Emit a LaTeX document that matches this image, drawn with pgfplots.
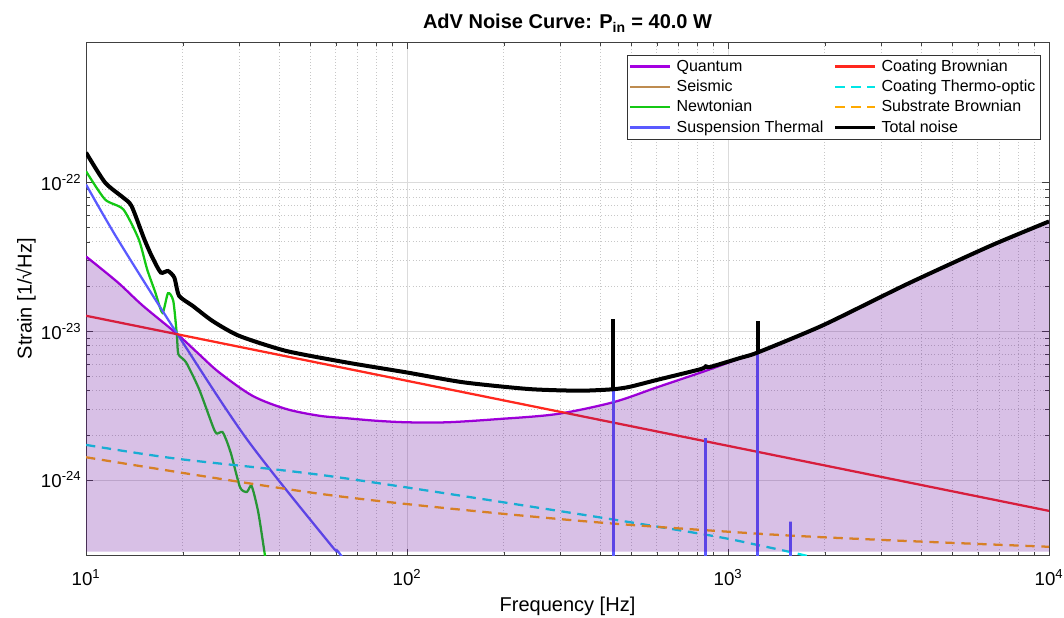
\documentclass[border=0pt]{standalone}
\usepackage{fontspec}
\setmainfont{Liberation Sans}
\setsansfont{Liberation Sans}
\usepackage{pgfplots}
\pgfplotsset{compat=1.18}

\definecolor{cQuant}{RGB}{165,0,225}
\definecolor{cSeis}{RGB}{190,140,80}
\definecolor{cNewt}{RGB}{20,200,20}
\definecolor{cSusp}{RGB}{90,90,255}
\definecolor{cCoatB}{RGB}{255,40,30}
\definecolor{cCoatTO}{RGB}{0,230,230}
\definecolor{cSub}{RGB}{255,170,0}
\definecolor{cFill}{RGB}{99,3,155}

\begin{document}
\begin{tikzpicture}
\begin{axis}[
    scale only axis,
    width=722pt, height=385pt,
    xmode=log, ymode=log,
    xmin=10, xmax=10000, ymin=3.1e-25, ymax=8.8e-22,
    xtick={10,100,1000,10000},
    xticklabels={10\textsuperscript{1},10\textsuperscript{2},10\textsuperscript{3},10\textsuperscript{4}},
    ytick={1e-24,1e-23,1e-22},
    yticklabels={10\textsuperscript{-24},10\textsuperscript{-23},10\textsuperscript{-22}},
    tick label style={font=\fontsize{14}{16}\selectfont},
    xticklabel style={yshift=-7pt},
    grid=both,
    major grid style={black!14, line width=0.5pt},
    minor grid style={black!22, dotted, line width=0.5pt},
    axis line style={black!75, line width=0.6pt},
    tick style={black!75},
    major tick length=5pt, minor tick length=3pt,
    title={\textbf{AdV Noise Curve: P\textsubscript{in} = 40.0 W}},
    title style={font=\fontsize{15}{17}\selectfont, yshift=-2pt},
    xlabel={Frequency [Hz]},
    ylabel={Strain [1/√Hz]},
    label style={font=\fontsize{15}{17}\selectfont},
    xlabel style={yshift=-1.5pt},
    ylabel style={yshift=-3pt},
    legend columns=4, transpose legend,
    legend cell align=left,
    legend style={at={(0.991,0.975)}, anchor=north east, draw=black!80,
        font=\fontsize{12}{14}\selectfont, row sep=1pt, inner sep=1.5pt,
        /tikz/every odd column/.append style={column sep=2pt},
        /tikz/every even column/.append style={column sep=6pt}},
    legend image code/.code={\draw[line width=1.7pt,#1] (0cm,0cm) -- (1.05cm,0cm);},
    every axis plot/.append style={line width=1.7pt},
]
% quantum
\addplot[cQuant, smooth] coordinates {(10,3.18e-23) (12.56,2.13e-23) (15,1.49e-23) (19.2,9.6e-24) (22.5,7.0e-24) (26,5.28e-24) (33,3.68e-24) (42,3.0e-24) (53.3,2.70e-24) (64.6,2.60e-24) (80,2.5e-24) (100,2.44e-24) (133,2.44e-24) (190,2.56e-24) (292,2.77e-24) (439,3.33e-24) (600,4.19e-24) (853,5.42e-24) (1089,6.56e-24) (1240,7.2e-24) (1983,1.1e-23) (3606,2.07e-23) (6550,3.74e-23) (10000,5.47e-23)};
\addlegendentry{Quantum}
% seismic (below the plotted range)
\addplot[cSeis] coordinates {(10,1e-26) (10000,1e-27)};
\addlegendentry{Seismic}
% newtonian
\addplot[cNewt, smooth, tension=0.4] coordinates {(10,1.19e-22) (11.46,7.69e-23) (13.07,6.59e-23) (14.6,4.14e-23) (15.5,2.61e-23) (16.4,1.85e-23) (17.3,1.33e-23) (18.0,1.8e-23) (18.7,1.6e-23) (19.2,9.3e-24) (19.4,7.0e-24) (20.5,6.17e-24) (22.5,4.08e-24) (24.8,2.31e-24) (25.5,2.05e-24) (26.6,2.1e-24) (27.5,1.8e-24) (28.4,1.46e-24) (30.2,8.9e-25) (31.7,8.3e-25) (32.8,9.1e-25) (34.4,6.07e-25) (36.1,3.1e-25) (38,1.5e-25)};
\addlegendentry{Newtonian}
% suspension thermal
\addplot[cSusp, smooth] coordinates {(10,9.7e-23) (12.56,4.14e-23) (19.1,9.84e-24) (31.7,1.88e-24) (57.5,3.72e-25) (61.8,3.18e-25) (80,1.4e-25)};
\addlegendentry{Suspension Thermal}
% coating brownian
\addplot[cCoatB] coordinates {(10,1.27e-23) (10000,6.19e-25)};
\addlegendentry{Coating Brownian}
% coating thermo-optic
\addplot[cCoatTO, smooth, dash pattern=on 7pt off 5pt] coordinates {(10,1.72e-24) (19.1,1.39e-24) (57.5,1.06e-24) (314,6.07e-25) (853,4.28e-25) (1259,3.62e-25) (1800,3.05e-25) (3000,2.3e-25)};
\addlegendentry{Coating Thermo-optic}
% substrate brownian
\addplot[cSub, smooth, dash pattern=on 7pt off 5pt] coordinates {(10,1.42e-24) (57.5,7.9e-25) (314,5.4e-25) (1240,4.35e-25) (3000,3.95e-25) (10000,3.55e-25)};
\addlegendentry{Substrate Brownian}
% violin mode peaks of suspension thermal
\addplot[cSusp, line width=2.3pt, forget plot] coordinates {(438.5,1e-27) (438.5,4.1e-24) (438.5,1e-27) (853,1e-27) (853,1.91e-24) (853,1e-27) (1239,1e-27) (1239,7.2e-24) (1239,1e-27) (1570,1e-27) (1570,5.25e-25) (1570,1e-27)};
% shaded quantum region
\addplot[fill=cFill, fill opacity=0.25, draw=none, forget plot, smooth] coordinates {(10,3.18e-23) (12.56,2.13e-23) (15,1.49e-23) (19.2,9.6e-24) (22.5,7.0e-24) (26,5.28e-24) (33,3.68e-24) (42,3.0e-24) (53.3,2.70e-24) (64.6,2.60e-24) (80,2.5e-24) (100,2.44e-24) (133,2.44e-24) (190,2.56e-24) (292,2.77e-24) (439,3.33e-24) (600,4.19e-24) (853,5.42e-24) (1089,6.56e-24) (1240,7.2e-24) (1983,1.1e-23) (3606,2.07e-23) (6550,3.74e-23) (10000,5.47e-23)} |- (axis cs:10,3.3e-25) -- cycle;
% total noise, spikes drawn separately
\addplot[black, line width=3pt, smooth, tension=0.4] coordinates {(10,1.59e-22) (11.46,1.0e-22) (13.07,7.9e-23) (13.87,6.93e-23) (15.2,4.14e-23) (16.1,3.13e-23) (17.1,2.48e-23) (18.0,2.54e-23) (18.85,2.29e-23) (19.5,1.73e-23) (21.5,1.48e-23) (24.8,1.17e-23) (30,9.3e-24) (42,7.37e-24) (64.6,6.17e-24) (99.8,5.28e-24) (150,4.53e-24) (241,4.08e-24) (346,3.98e-24) (438.5,4.07e-24) (495,4.23e-24) (600,4.7e-24) (820,5.55e-24) (853,5.8e-24) (880,5.75e-24) (1089,6.6e-24) (1239,7.2e-24) (1983,1.1e-23) (3606,2.07e-23) (6550,3.74e-23) (10000,5.47e-23)};
\addlegendentry{Total noise}
\addplot[black, line width=3pt, forget plot] coordinates {(438.5,4.07e-24) (438.5,1.2e-23)};
\addplot[black, line width=3pt, forget plot] coordinates {(1239,7.2e-24) (1239,1.18e-23)};
\end{axis}
\pgfresetboundingbox
\path[use as bounding box] ([shift={(-64.5pt,-46.5pt)}]current axis.south west) rectangle ([shift={(11.25pt,31.5pt)}]current axis.north east);
\end{tikzpicture}
\end{document}
